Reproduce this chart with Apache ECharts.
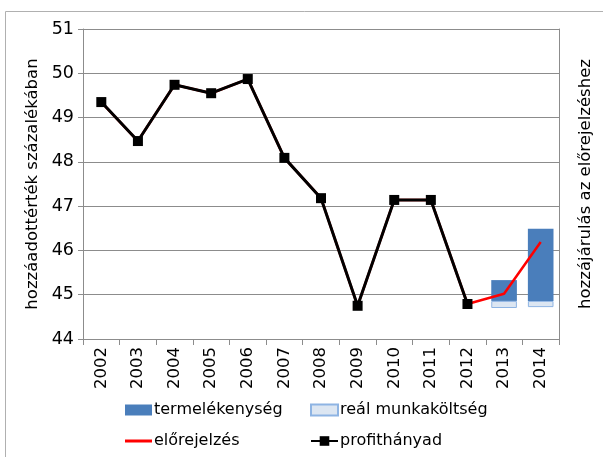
<!DOCTYPE html>
<html><head><meta charset="utf-8">
<script src="https://cdn.jsdelivr.net/npm/echarts@6/dist/echarts.min.js"></script>
<style>html,body{margin:0;padding:0;background:#fff}#c{width:603px;height:457px}</style>
</head><body><div id="c"></div>
<script>
var years = ['2002','2003','2004','2005','2006','2007','2008','2009','2010','2011','2012','2013','2014'];
var profit = [49.35, 48.47, 49.74, 49.55, 49.87, 48.09, 47.18, 44.75, 47.14, 47.14, 44.79, null, null];
var forecast = [49.35, 48.47, 49.74, 49.55, 49.87, 48.09, 47.18, 44.75, 47.14, 47.14, 44.79, 45.02, 46.19];
var barBase = [null, null, null, null, null, null, null, null, null, null, null, 44.70, 44.72];
var laborCost = [null, null, null, null, null, null, null, null, null, null, null, 0.16, 0.14];
var productivity = [null, null, null, null, null, null, null, null, null, null, null, 0.47, 1.63];

var FONT = 'DejaVu Sans';
var LTXT = {fontFamily: FONT, fontSize: 16, color: '#000', padding: [0, 0, 0, -3]};
function leg(name, left, top, h, icon) {
  var d = icon ? [{name: name, icon: icon}] : [name];
  return {data: d, left: left, top: top, itemWidth: 27, itemHeight: h, padding: 0, textStyle: LTXT};
}
var chart = echarts.init(document.getElementById('c'));
chart.setOption({
  animation: false,
  textStyle: {fontFamily: FONT, color: '#000'},
  graphic: [{type: 'rect', shape: {x: 5.5, y: 11.5, width: 640, height: 480}, style: {fill: 'none', stroke: '#b0b0b0', lineWidth: 1}, silent: true}],
  grid: {left: 83, right: 44, top: 29, bottom: 118},
  legend: [
    leg('termelékenység', 125, 402, 11, 'rect'),
    leg('reál munkaköltség', 310, 402, 11, 'rect'),
    leg('előrejelzés', 125, 433, 3, 'rect'),
    leg('profithányad', 310, 433, 12)
  ],
  xAxis: {
    type: 'category', data: years, boundaryGap: true,
    axisLine: {lineStyle: {color: '#8c8c8c'}},
    axisTick: {show: true, interval: 0, length: 6, lineStyle: {color: '#8c8c8c'}},
    axisLabel: {rotate: 90, fontSize: 16.5, fontFamily: FONT, color: '#000', margin: 8, interval: 0}
  },
  yAxis: [{
    type: 'value', min: 44, max: 51, interval: 1,
    name: 'hozzáadottérték százalékában', nameLocation: 'middle', nameGap: 41, nameRotate: 90,
    nameTextStyle: {fontSize: 16.5, fontFamily: FONT, color: '#000'},
    axisLine: {show: true, lineStyle: {color: '#8c8c8c'}},
    axisTick: {show: true, length: 5, lineStyle: {color: '#8c8c8c'}},
    axisLabel: {fontSize: 17.5, fontFamily: FONT, color: '#000', margin: 9},
    splitLine: {lineStyle: {color: '#8c8c8c'}}
  }, {
    type: 'value', min: 44, max: 51, interval: 1, position: 'right',
    name: 'hozzájárulás az előrejelzéshez', nameLocation: 'middle', nameGap: 18, nameRotate: 90,
    nameTextStyle: {fontSize: 16.5, fontFamily: FONT, color: '#000'},
    axisLine: {show: true, lineStyle: {color: '#8c8c8c'}},
    axisTick: {show: false}, axisLabel: {show: false}, splitLine: {show: false}
  }],
  series: [
    {name: 'base', type: 'bar', stack: 'c', data: barBase, barWidth: '70%', itemStyle: {color: 'rgba(0,0,0,0)'}, silent: true, z: 1},
    {name: 'reál munkaköltség', type: 'bar', stack: 'c', data: laborCost, barWidth: '70%',
     itemStyle: {color: '#dce6f2', borderColor: '#8eb4e3', borderWidth: 1}, z: 1},
    {name: 'termelékenység', type: 'bar', stack: 'c', data: productivity, barWidth: '70%',
     itemStyle: {color: '#4a7ebb', borderColor: '#4a7ebb', borderWidth: 0}, z: 1},
    {name: 'előrejelzés', type: 'line', data: forecast, symbol: 'none', lineStyle: {color: '#ff0000', width: 2.5}, itemStyle: {color: '#ff0000'}, z: 3},
    {name: 'profithányad', type: 'line', data: profit, symbol: 'rect', symbolSize: 10, connectNulls: false,
     lineStyle: {color: '#000', width: 3}, itemStyle: {color: '#000'}, z: 4}
  ]
});
</script></body></html>
